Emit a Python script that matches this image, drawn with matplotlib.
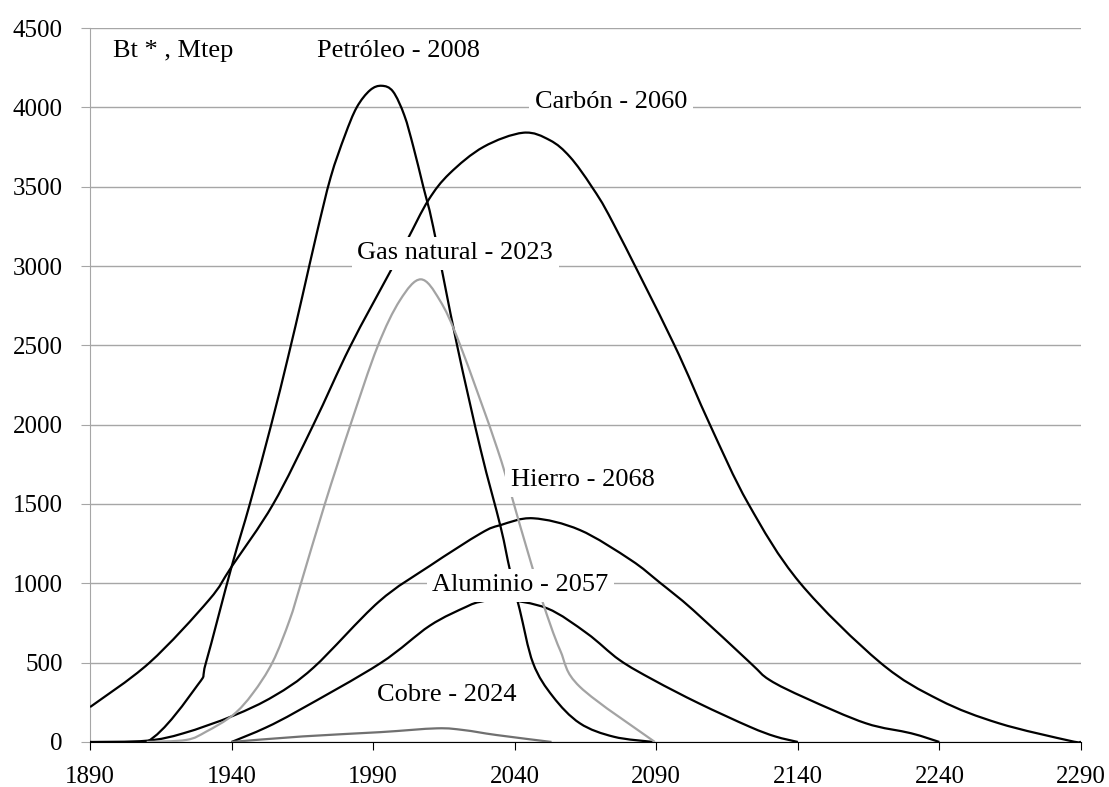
import matplotlib.pyplot as plt
from matplotlib.path import Path
from matplotlib.patches import PathPatch

# x values are positions on the (evenly spaced) category axis, 50 years per tick
tick_pos = [1890, 1940, 1990, 2040, 2090, 2140, 2190, 2240]
tick_labels = ['1890', '1940', '1990', '2040', '2090', '2140', '2240', '2290']

petroleo_x = [1890, 1910, 1928, 1931, 1940, 1946.5, 1954, 1960, 1965, 1970, 1975, 1980,
              1984.2, 1988.9, 1993, 1997, 2001, 2004.2, 2007.7, 2011.2, 2019.5, 2028,
              2035, 2038.3, 2041.8, 2046.5, 2053.5, 2063, 2075, 2089]
petroleo_y = [0, 0, 359, 504, 1105, 1504, 2000, 2430, 2810, 3200, 3560, 3822,
              4000, 4108, 4136, 4100, 3950, 3751, 3500, 3247, 2512, 1840,
              1357, 1084, 832, 496, 286, 118, 33, 0]

carbon_x = [1890, 1911, 1932, 1940, 1954.7, 1968.9, 1981.8, 1996, 2002, 2009.5, 2017,
            2029, 2043, 2052.4, 2059.5, 2067.2, 2074.8, 2096, 2108.9, 2122.5,
            2140.7, 2169, 2190, 2211, 2236, 2240]
carbon_y = [220, 500, 895, 1105, 1500, 2000, 2490, 2964, 3163, 3415, 3583,
            3751, 3840, 3793, 3688, 3500, 3269, 2516, 2002, 1502,
            1004, 502, 265, 118, 8, 0]

gas_x = [1910, 1924, 1931, 1940.5, 1947.5, 1954.5, 1960.5, 1964.5, 1973, 1982, 1991.5,
         1999.5, 2006.8, 2013.5, 2020.5, 2034, 2042, 2046.5, 2050, 2056,
         2063, 2089.5]
gas_y = [0, 13, 65, 170, 307, 504, 769, 1000, 1504, 2000, 2490,
         2785, 2916, 2785, 2512, 1840, 1357, 1084, 874, 580,
         348, 0]

hierro_x = [1890, 1910, 1923, 1940.5, 1955, 1969, 1992, 2010, 2028, 2035, 2046.5, 2063,
            2081, 2091.3, 2103, 2123, 2130, 2143, 2164, 2180, 2190]
hierro_y = [0, 8, 55, 165, 290, 470, 884, 1110, 1315, 1367, 1410, 1336,
            1147, 1004, 832, 502, 391, 275, 118, 55, 0]

aluminio_x = [1940, 1952, 1964, 1992.5, 2010, 2023, 2028, 2036, 2051.5, 2065.5,
              2077, 2089, 2105, 2123, 2132, 2140]
aluminio_y = [0, 90, 202, 496, 733, 853, 884, 899, 842, 685,
              517, 391, 244, 96, 35, 0]

cobre_x = [1940, 1965, 1992.5, 2012.5, 2022, 2033.5, 2053]
cobre_y = [0, 35, 62, 86, 75, 44, 0]


def smooth_path(xs, ys):
    # Excel-style smoothed line: cubic bezier through every point (Catmull-Rom)
    pts = list(zip(xs, ys))
    verts = [pts[0]]
    codes = [Path.MOVETO]
    for i in range(len(pts) - 1):
        p0 = pts[i - 1] if i > 0 else pts[i]
        p1 = pts[i]
        p2 = pts[i + 1]
        p3 = pts[i + 2] if i + 2 < len(pts) else p2
        c1 = (p1[0] + (p2[0] - p0[0]) / 6, p1[1] + (p2[1] - p0[1]) / 6)
        c2 = (p2[0] - (p3[0] - p1[0]) / 6, p2[1] - (p3[1] - p1[1]) / 6)
        verts += [c1, c2, p2]
        codes += [Path.CURVE4] * 3
    return Path(verts, codes)


plt.rcParams['font.family'] = ['Liberation Serif', 'DejaVu Serif']
fig = plt.figure(figsize=(11.09, 7.87), dpi=100)
ax = fig.add_axes([0.0812, 0.0572, 0.8935, 0.9072])

series = [(carbon_x, carbon_y, 'black'),
          (petroleo_x, petroleo_y, 'black'),
          (hierro_x, hierro_y, 'black'),
          (aluminio_x, aluminio_y, 'black'),
          (gas_x, gas_y, '#a3a3a3'),
          (cobre_x, cobre_y, '#707070')]
for xs, ys, c in series:
    ax.add_patch(PathPatch(smooth_path(xs, ys), fill=False, edgecolor=c, lw=1.6, zorder=3))

ax.set_xlim(1890, 2240)
ax.set_ylim(0, 4500)
ax.set_yticks(range(0, 4501, 500))
ax.set_xticks(tick_pos)
ax.set_xticklabels(tick_labels)
ax.yaxis.grid(True, color='#a6a6a6', lw=1.0)
ax.set_axisbelow(True)

for s in ['top', 'right']:
    ax.spines[s].set_visible(False)
ax.spines['left'].set_color('#a6a6a6')
ax.spines['bottom'].set_color('black')
ax.tick_params(axis='y', length=6.5, color='#a6a6a6', pad=13, labelsize=18)
ax.tick_params(axis='x', length=6, color='black', pad=11, labelsize=18)

fs = 19
box = dict(facecolor='white', edgecolor='none', pad=4)
ax.text(1898, 4355, 'Bt * , Mtep', fontsize=fs, va='center', ha='left')
ax.text(1999, 4355, 'Petróleo - 2008', fontsize=fs, va='center', ha='center')
ax.text(2074, 4035, 'Carbón - 2060', fontsize=fs, va='center', ha='center', bbox=box, zorder=4)
ax.text(2019, 3080, 'Gas natural - 2023', fontsize=fs, va='center', ha='center', bbox=box, zorder=4)
ax.text(2064, 1650, 'Hierro - 2068', fontsize=fs, va='center', ha='center', bbox=box, zorder=4)
ax.text(2042, 989, 'Aluminio - 2057', fontsize=fs, va='center', ha='center', bbox=box, zorder=4)
ax.text(2016, 296, 'Cobre - 2024', fontsize=fs, va='center', ha='center')

fig.savefig('out.png', dpi=100)
